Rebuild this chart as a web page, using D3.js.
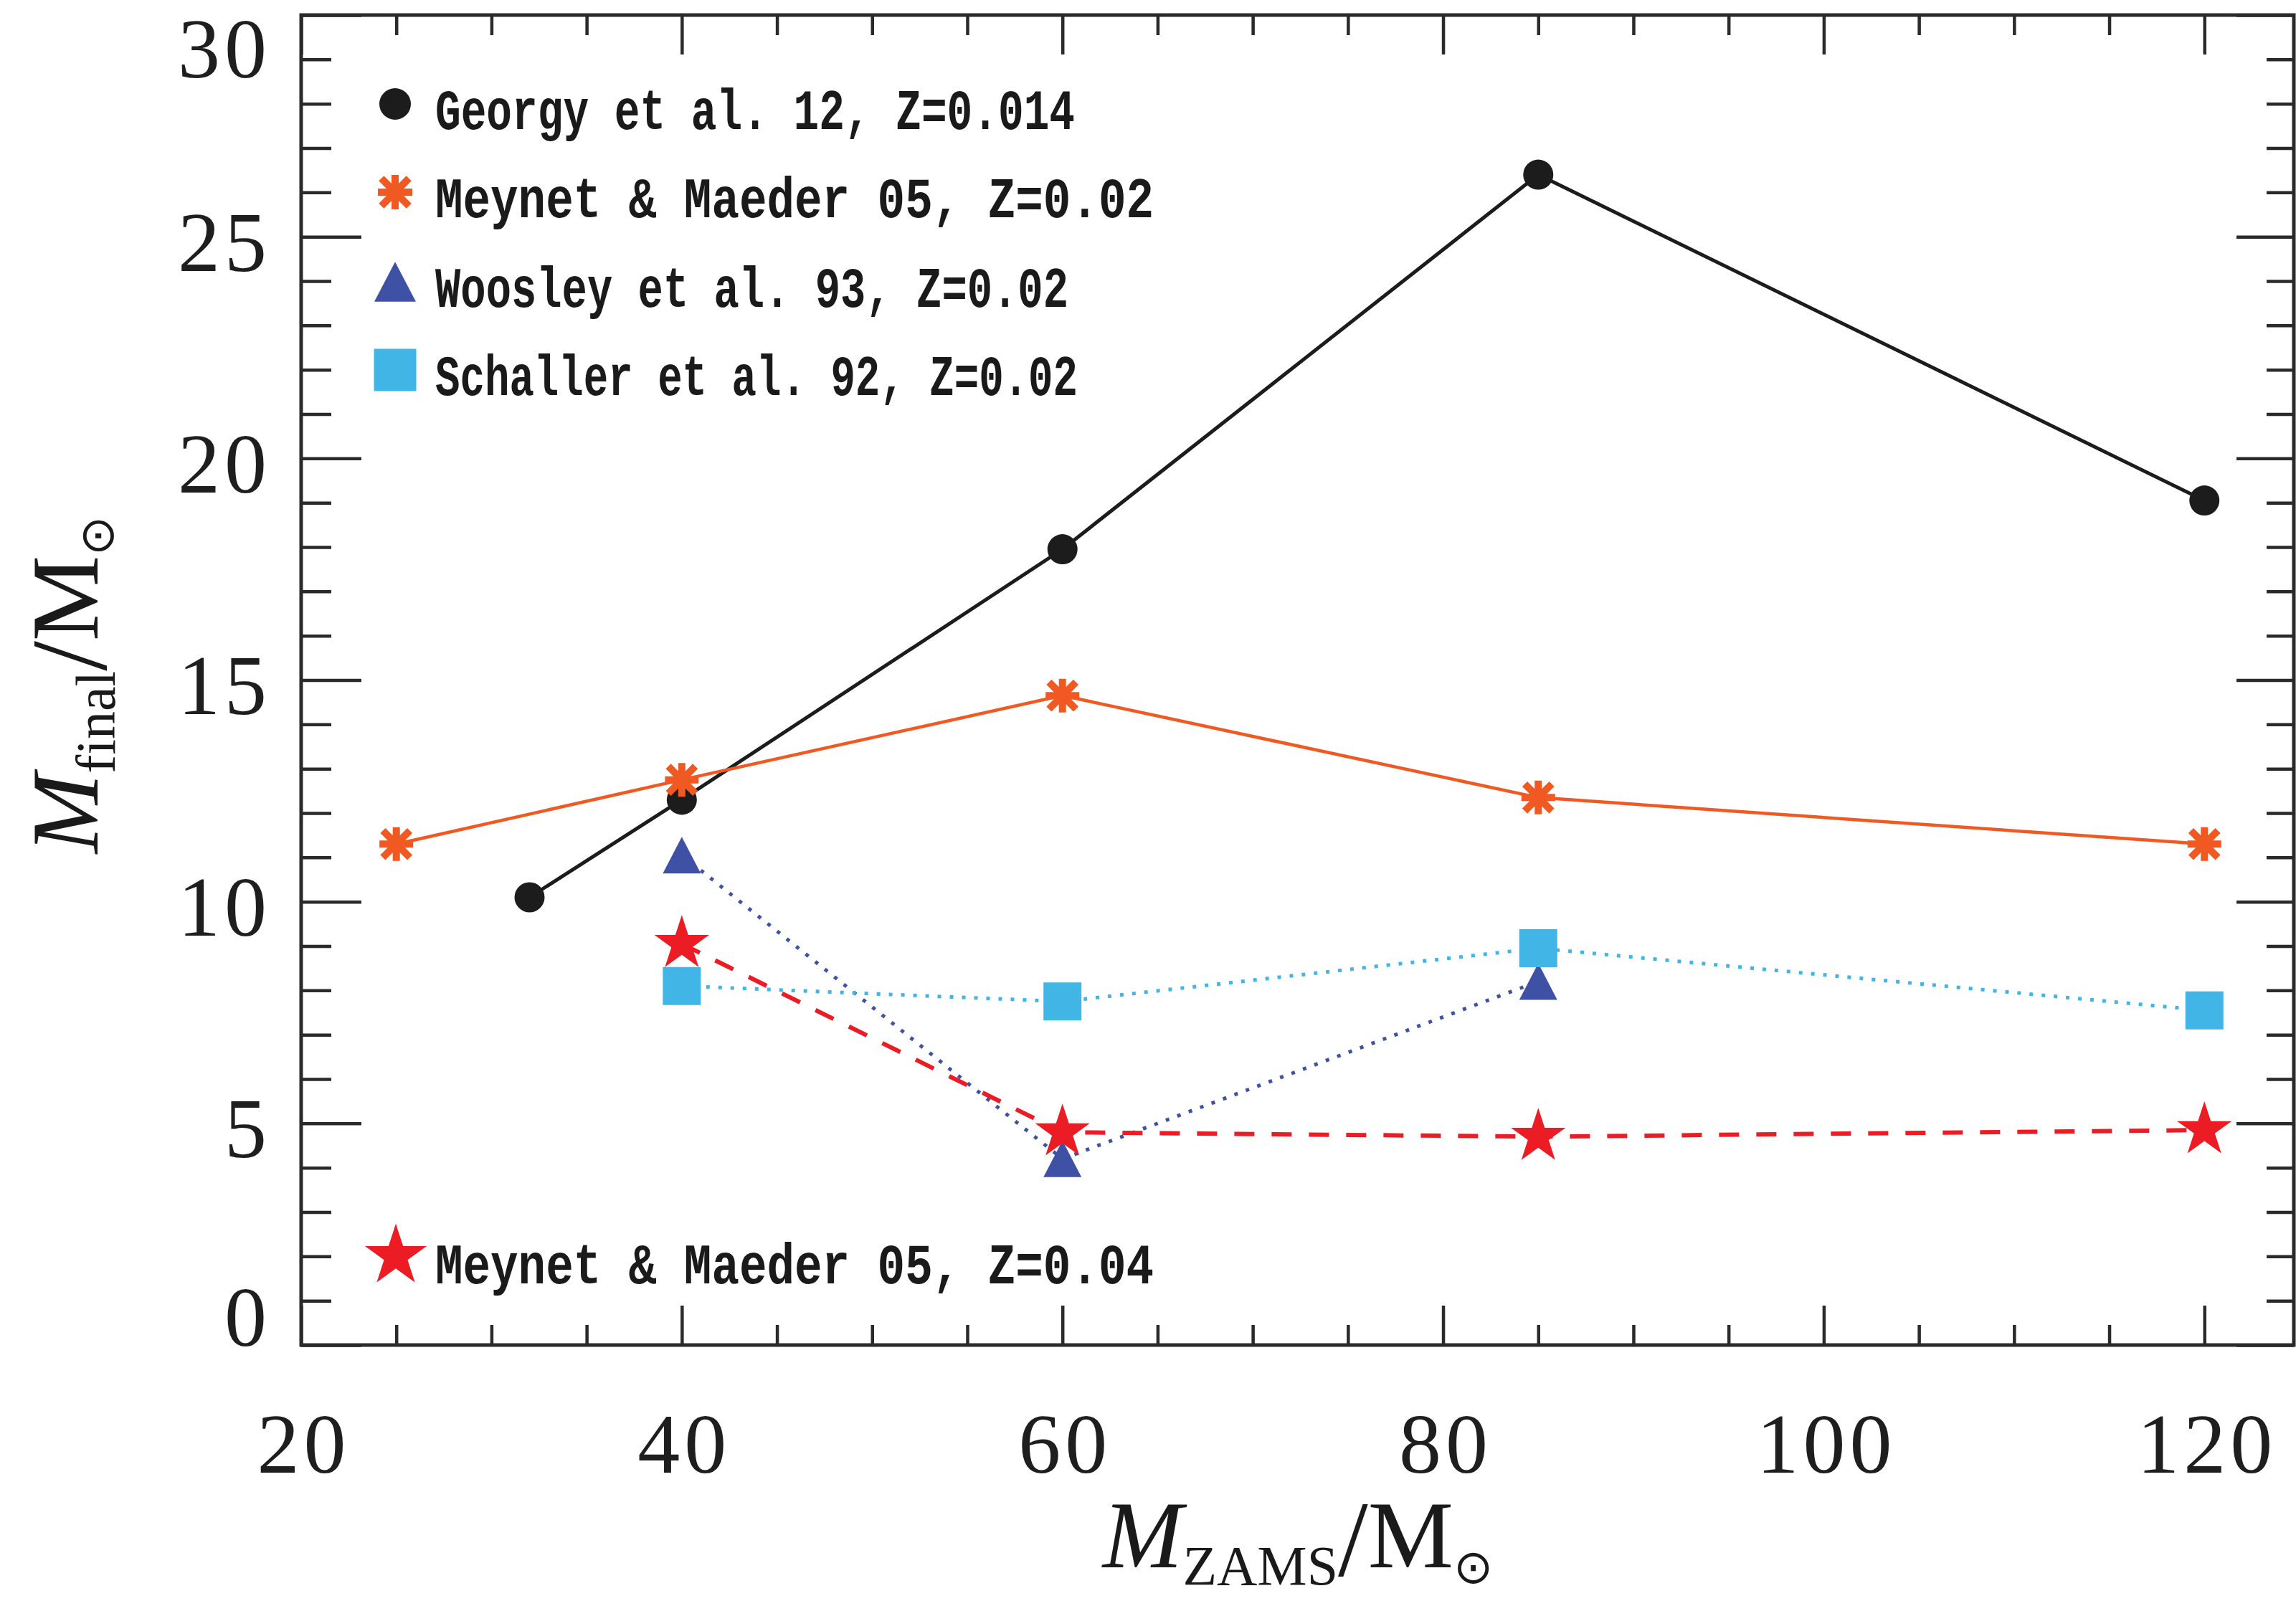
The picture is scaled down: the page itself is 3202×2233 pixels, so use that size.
<!DOCTYPE html>
<html>
<head>
<meta charset="utf-8">
<script src="https://cdn.jsdelivr.net/npm/d3@7"></script>
<style>
  html, body { margin: 0; padding: 0; background: #ffffff; }
  svg { display: block; }
</style>
</head>
<body>
<svg id="chart"></svg>
<script>
// Final stellar mass against initial (ZAMS) mass for several massive-star model grids.

// ---- data ----
const georgyMass    = [32, 40, 60, 85, 120];
const georgyFinal   = [10.1, 12.3, 17.95, 26.4, 19.05];

const meynet02Mass  = [25, 40, 60, 85, 120];
const meynet02Final = [11.3, 12.75, 14.65, 12.35, 11.3];

const woosleyMass   = [40, 60, 85];
const woosleyFinal  = [11.05, 4.2, 8.2];

const schallerMass  = [40, 60, 85, 120];
const schallerFinal = [8.1, 7.75, 8.95, 7.55];

const meynet04Mass  = [40, 60, 85, 120];
const meynet04Final = [9.05, 4.8, 4.7, 4.85];

const seriesNames = [
  "Georgy et al. 12, Z=0.014",
  "Meynet & Maeder 05, Z=0.02",
  "Woosley et al. 93, Z=0.02",
  "Schaller et al. 92, Z=0.02",
  "Meynet & Maeder 05, Z=0.04"
];

const xMajorTicks = [20, 40, 60, 80, 100, 120];
const xMinorTicks = [25, 30, 35, 45, 50, 55, 65, 70, 75, 85, 90, 95, 105, 110, 115];
const yMajorTicks = [0, 5, 10, 15, 20, 25, 30];
const yMinorTicks = [1, 2, 3, 4, 6, 7, 8, 9, 11, 12, 13, 14, 16, 17, 18, 19, 21, 22, 23, 24, 26, 27, 28, 29];

// ---- layout ----
const W = 3202, H = 2233;
const frame = { left: 420, right: 3199, top: 21, bottom: 1876 };
const axisColor = "#2a2a2a";
const serif = "'Liberation Serif', 'Times New Roman', serif";
const mono = "'Liberation Mono', 'Courier New', monospace";
const tickFont = 118;

const svg = d3.select("#chart").attr("width", W).attr("height", H);
svg.append("rect").attr("width", W).attr("height", H).attr("fill", "#ffffff");

const x = d3.scaleLinear().domain([20, 124.7]).range([frame.left, frame.right]);
const y = d3.scaleLinear().domain([0, 30]).range([frame.bottom, frame.top]);

// ---- marker shapes ----
const symAsterisk = {
  draw(ctx, size) {
    const r = Math.sqrt(size) / 2, d = r * 0.8;
    ctx.moveTo(-r, 0); ctx.lineTo(r, 0);
    ctx.moveTo(0, -r); ctx.lineTo(0, r);
    ctx.moveTo(-d, -d); ctx.lineTo(d, d);
    ctx.moveTo(-d, d); ctx.lineTo(d, -d);
  }
};
const symTriangle = {
  draw(ctx, size) {
    const w = Math.sqrt(size), h = w * 0.96;
    ctx.moveTo(0, -h / 2);
    ctx.lineTo(w / 2, h / 2);
    ctx.lineTo(-w / 2, h / 2);
    ctx.closePath();
  }
};

const series = [
  { name: seriesNames[0], mass: georgyMass, final: georgyFinal, color: "#1c1c1c",
    width: 5, dash: null, type: d3.symbolCircle, size: Math.PI * 21 * 21, legendSize: Math.PI * 22 * 22, stroked: false },
  { name: seriesNames[1], mass: meynet02Mass, final: meynet02Final, color: "#f05a22",
    width: 4.5, dash: null, type: symAsterisk, size: 47 * 47, legendSize: 48 * 48, stroked: true },
  { name: seriesNames[2], mass: woosleyMass, final: woosleyFinal, color: "#3f51a5",
    width: 5, dash: "5,12", type: symTriangle, size: 53 * 53, legendSize: 58 * 58, stroked: false },
  { name: seriesNames[3], mass: schallerMass, final: schallerFinal, color: "#41b6e6",
    width: 5, dash: "5,12", type: d3.symbolSquare, size: 53 * 53, legendSize: 59 * 59, stroked: false },
  { name: seriesNames[4], mass: meynet04Mass, final: meynet04Final, color: "#ec1c24",
    width: 6, dash: "28,24", type: d3.symbolStar, size: 1800, legendSize: 2300, stroked: false }
];

// ---- ticks (inward, on all four sides) ----
function ticks(axisGen, transform, values, len) {
  const g = svg.append("g")
    .attr("transform", transform)
    .call(axisGen.tickValues(values).tickSizeInner(-len).tickSizeOuter(0).tickFormat(""));
  g.select(".domain").remove();
  g.selectAll("text").remove();
  g.selectAll("line").attr("stroke", axisColor).attr("stroke-width", 4.5);
}
ticks(d3.axisBottom(x), `translate(0,${frame.bottom})`, xMajorTicks, 55);
ticks(d3.axisBottom(x), `translate(0,${frame.bottom})`, xMinorTicks, 28);
ticks(d3.axisTop(x), `translate(0,${frame.top})`, xMajorTicks, 55);
ticks(d3.axisTop(x), `translate(0,${frame.top})`, xMinorTicks, 28);
ticks(d3.axisLeft(y), `translate(${frame.left},0)`, yMajorTicks, 84);
ticks(d3.axisLeft(y), `translate(${frame.left},0)`, yMinorTicks, 42);
ticks(d3.axisRight(y), `translate(${frame.right},0)`, yMajorTicks, 80);
ticks(d3.axisRight(y), `translate(${frame.right},0)`, yMinorTicks, 38);

// ---- tick labels ----
const xLab = svg.append("g")
  .attr("transform", `translate(0,${frame.bottom})`)
  .call(d3.axisBottom(x).tickValues(xMajorTicks).tickSize(0).tickFormat(d3.format("d")));
xLab.select(".domain").remove();
xLab.selectAll("line").remove();
xLab.attr("font-family", serif).attr("font-size", tickFont);
xLab.selectAll("text")
  .attr("y", 178).attr("dy", null)
  .attr("dx", 3)
  .attr("letter-spacing", 6)
  .attr("fill", "#1e1e1e");

const yLab = svg.append("g")
  .attr("transform", `translate(${frame.left},0)`)
  .call(d3.axisLeft(y).tickValues(yMajorTicks).tickSize(0).tickPadding(42).tickFormat(d3.format("d")));
yLab.select(".domain").remove();
yLab.selectAll("line").remove();
yLab.attr("font-family", serif).attr("font-size", tickFont);
yLab.selectAll("text")
  .attr("dy", null)
  .attr("letter-spacing", 6)
  .attr("fill", "#1e1e1e")
  .attr("y", d => {
    const base = Math.min(Math.max(y(d) + 47, frame.top + 86), frame.bottom);
    return base - y(d);
  });

// ---- lines and markers ----
const line = d3.line().x(d => x(d[0])).y(d => y(d[1]));
const plot = svg.append("g");

series.forEach(s => {
  const pts = d3.zip(s.mass, s.final);
  plot.append("path")
    .datum(pts)
    .attr("d", line)
    .attr("fill", "none")
    .attr("stroke", s.color)
    .attr("stroke-width", s.width)
    .attr("stroke-dasharray", s.dash);
  const sym = d3.symbol().type(s.type).size(s.size);
  plot.selectAll(null)
    .data(pts)
    .join("path")
    .attr("transform", d => `translate(${x(d[0])},${y(d[1])})`)
    .attr("d", sym)
    .attr("fill", s.stroked ? "none" : s.color)
    .attr("stroke", s.stroked ? s.color : "none")
    .attr("stroke-width", s.stroked ? 10 : 0);
});

// ---- frame ----
svg.append("rect")
  .attr("x", frame.left).attr("y", frame.top)
  .attr("width", frame.right - frame.left).attr("height", frame.bottom - frame.top)
  .attr("fill", "none").attr("stroke", axisColor).attr("stroke-width", 5);

// ---- legend ----
const legendRows = [
  { cx: 551, cy: 145, width: 892 },
  { cx: 551, cy: 268, width: 1002 },
  { cx: 551, cy: 393, width: 883 },
  { cx: 551, cy: 516, width: 896 },
  { cx: 552, cy: 1752, width: 1002 }
];
const legend = svg.append("g");
series.forEach((s, i) => {
  const r = legendRows[i];
  legend.append("path")
    .attr("transform", `translate(${r.cx},${r.cy})`)
    .attr("d", d3.symbol().type(s.type).size(s.legendSize)())
    .attr("fill", s.stroked ? "none" : s.color)
    .attr("stroke", s.stroked ? s.color : "none")
    .attr("stroke-width", s.stroked ? 10 : 0);
  legend.append("text")
    .attr("x", 607)
    .attr("y", r.cy + (i === 4 ? 38 : 35))
    .attr("font-family", mono)
    .attr("font-weight", "bold")
    .attr("font-size", 80)
    .attr("fill", "#1a1a1a")
    .attr("textLength", r.width)
    .attr("lengthAdjust", "spacingAndGlyphs")
    .text(s.name);
});

// ---- axis titles ----
function massTitle(g, sub) {
  const t = g.append("text")
    .attr("text-anchor", "middle")
    .attr("font-family", serif)
    .attr("fill", "#1a1a1a");
  t.append("tspan").attr("font-style", "italic").attr("font-size", 134).text("M");
  t.append("tspan").attr("font-size", 78).attr("dy", 24).text(sub);
  t.append("tspan").attr("font-size", 150).attr("dy", -12).text("/");
  t.append("tspan").attr("font-size", 134).attr("dy", -12).text("M");
  t.append("tspan").attr("font-family", "'DejaVu Sans', sans-serif")
    .attr("font-size", 66).attr("dy", 22).text("\u2299");
  return t;
}
massTitle(svg.append("g").attr("transform", "translate(1810,2186)"), "ZAMS");
massTitle(svg.append("g").attr("transform", "translate(136,955) rotate(-90)"), "final");
</script>
</body>
</html>
